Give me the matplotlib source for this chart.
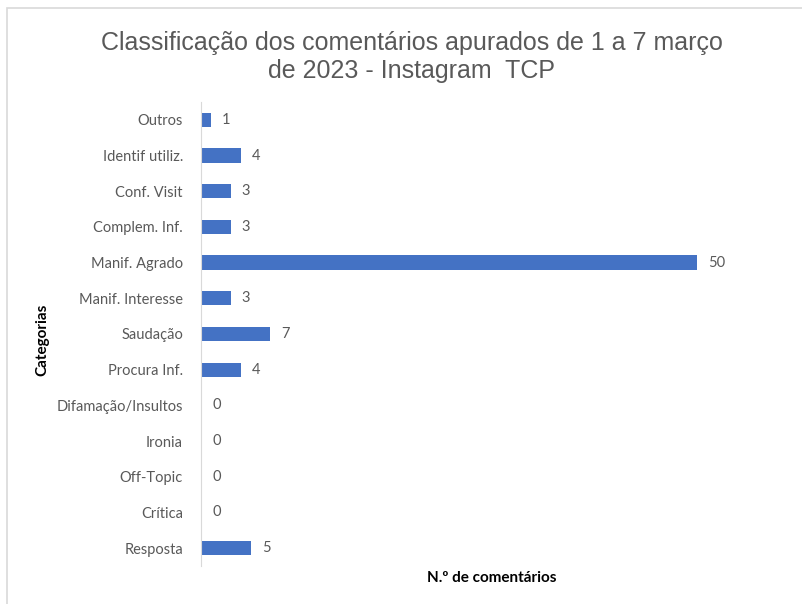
import matplotlib.pyplot as plt
from matplotlib.patches import Rectangle

categorias = ['Outros', 'Identif utiliz.', 'Conf. Visit', 'Complem. Inf.',
              'Manif. Agrado', 'Manif. Interesse', 'Saudação', 'Procura Inf.',
              'Difamação/Insultos', 'Ironia', 'Off-Topic', 'Crítica', 'Resposta']
comentarios = [1, 4, 3, 3, 50, 3, 7, 4, 0, 0, 0, 0, 5]

fig = plt.figure(figsize=(8.03, 6.04), dpi=100)
ax = fig.add_axes([201/803, 1-566/604, (697-201)/803, (566-102)/604])

# light frame of the excel chart area
fig.patches.append(Rectangle((7/803, -0.1), 1.2, 1 - 8/604 + 0.1, transform=fig.transFigure,
                             fill=False, edgecolor='#d9d9d9', linewidth=1.2))

pos = list(range(len(categorias)))
ax.barh(pos, comentarios, height=0.4, color='#4472C4')
for p, v in zip(pos, comentarios):
    ax.annotate(str(v), (v, p), xytext=(8, 0), textcoords='offset points',
                va='center', ha='left', fontsize=10.5, color='#595959',
                family='Lato', annotation_clip=False)

ax.set_xlim(0, 50)
ax.set_ylim(len(categorias) - 0.5, -0.5)
ax.set_yticks(pos)
ax.set_yticklabels(categorias, fontsize=10.5, color='#595959', family='Lato')
ax.tick_params(axis='y', length=0, pad=13)
ax.set_xticks([])
for s in ['top', 'right', 'bottom']:
    ax.spines[s].set_visible(False)
ax.spines['left'].set_color('#d9d9d9')

fig.text(412/803, 1-57/604, 'Classificação dos comentários apurados de 1 a 7 março\nde 2023 - Instagram  TCP',
         ha='center', va='center', fontsize=18, color='#595959', family='Liberation Sans',
         linespacing=1.25)
fig.text(42/803, 1-340/604, 'Categorias', rotation=90, ha='center', va='center',
         fontsize=11, fontweight='bold', family='Lato', color='black')
fig.text(492/803, 1-578/604, 'N.º de comentários', ha='center', va='center',
         fontsize=11, fontweight='bold', family='Lato', color='black')

fig.savefig('out.png', dpi=100)
